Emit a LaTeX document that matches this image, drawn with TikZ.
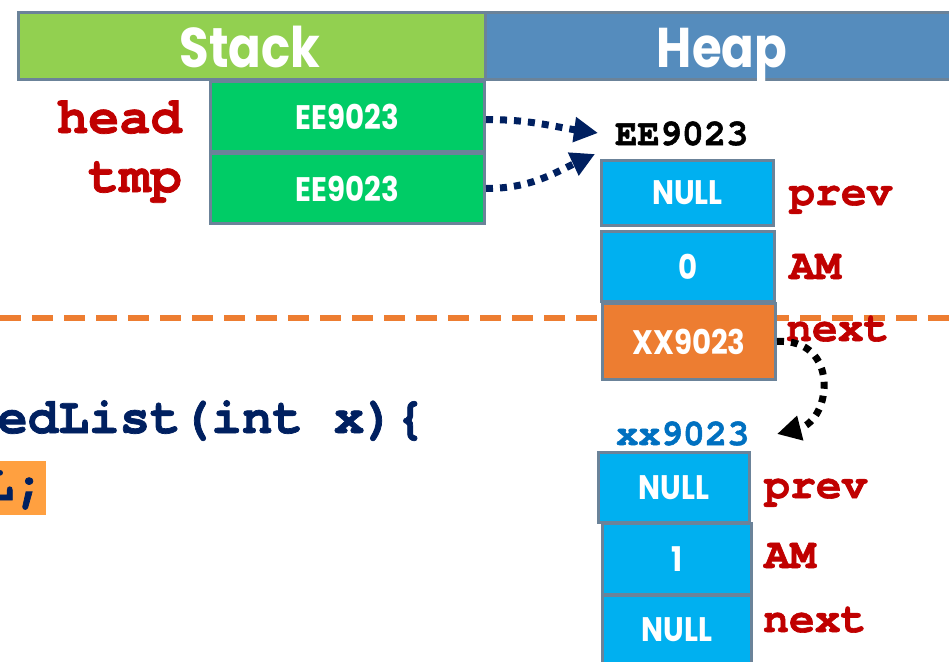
\documentclass[tikz,border=0pt]{standalone}
\usepackage{fontspec}
\usetikzlibrary{arrows.meta}
\newfontfamily\gothic{Poppins}[FakeStretch=0.86]
\newfontfamily\cour{texgyrecursor}[Extension=.otf, UprightFont=*-bold, BoldFont=*-bold, FakeBold=1.4]

\definecolor{stackgreen}{HTML}{92D050}
\definecolor{heapblue}{HTML}{558CBD}
\definecolor{cellgreen}{HTML}{00CC66}
\definecolor{cellcyan}{HTML}{00B0F0}
\definecolor{cellorange}{HTML}{ED7D31}
\definecolor{cellborder}{HTML}{6B8399}
\definecolor{labelred}{HTML}{C00000}
\definecolor{navy}{HTML}{002060}
\definecolor{addrblue}{HTML}{0070C0}
\definecolor{hlorange}{HTML}{FFA040}

\tikzset{
  hdrbox/.style={draw=cellborder, line width=3pt, inner sep=0pt, anchor=north west},
  hdrtext/.style={text=white, inner sep=0pt, anchor=base,
    font=\gothic\bfseries\fontsize{56}{56}\selectfont},
  cell/.style={draw=cellborder, line width=3pt, inner sep=0pt, anchor=north west,
    text=white, font=\gothic\bfseries\fontsize{34}{34}\selectfont},
  varname/.style={text=labelred, inner sep=0pt, anchor=base east,
    font=\cour\fontsize{52}{52}\selectfont},
  field/.style={text=labelred, inner sep=0pt, anchor=base west,
    font=\cour\fontsize{43}{43}\selectfont},
  addr/.style={inner sep=0pt, anchor=base west,
    font=\cour\fontsize{37}{37}\selectfont},
  code/.style={text=navy, inner sep=0pt, anchor=base west,
    font=\cour\fontsize{51}{51}\selectfont},
  ptr/.style={line width=7pt, dash pattern=on 7pt off 7pt,
    -{Triangle[length=24pt,width=24pt]}},
}

\begin{document}
\begin{tikzpicture}[x=1pt,y=-1pt]
\useasboundingbox (0,0) rectangle (949,661);
\clip (0,0) rectangle (949,661);

% section divider
\draw[cellorange, line width=6pt, dash pattern=on 21pt off 11pt] (0,318) -- (949,318);

% header bar
\node[hdrbox, fill=stackgreen, minimum width=467pt, minimum height=67pt] (stackhdr) at (17,11) {};
\node[hdrbox, fill=heapblue, minimum width=480pt, minimum height=67pt] (heaphdr) at (484,11) {};
\node[hdrtext] (stacktitle) at (250,67) {Stack};
\node[hdrtext] (heaptitle) at (722,67) {Heap};

% stack variables
\node[cell, fill=cellgreen, minimum width=274pt, minimum height=70pt] (headbox) at (209,80) {EE9023};
\node[cell, fill=cellgreen, minimum width=274pt, minimum height=70pt] (tmpbox) at (209,152) {EE9023};
\node[varname] (headname) at (182,133) {head};
\node[varname] (tmpname) at (182,192) {tmp};

% first heap node
\node[addr] (addr1) at (615,145) {EE9023};
\node[cell, fill=cellcyan, minimum width=172pt, minimum height=65pt] (prev1) at (600,159) {NULL};
\node[cell, fill=cellcyan, minimum width=173pt, minimum height=70pt] (am1) at (600,230) {0};
\node[cell, fill=cellorange, minimum width=173pt, minimum height=76pt] (next1) at (601,302) {XX9023};
\node[field] (prevlbl1) at (789,205) {prev};
\node[field] (amlbl1) at (789,279) {AM};
\node[field] (nextlbl1) at (786,341) {next};

% second heap node
\node[addr, text=addrblue] (addr2) at (616,445) {xx9023};
\node[cell, fill=cellcyan, minimum width=151pt, minimum height=70pt] (prev2) at (597,451) {NULL};
\node[cell, fill=cellcyan, minimum width=149pt, minimum height=71pt] (am2) at (601,522) {1};
\node[cell, fill=cellcyan, minimum width=149pt, minimum height=68pt] (next2) at (601,594) {NULL};
\node[field] (prevlbl2) at (764,498) {prev};
\node[field] (amlbl2) at (764,568) {AM};
\node[field] (nextlbl2) at (763,632) {next};

% code fragment
\node[code] (codeline1) at (-3,433) {edList(int x)\{};
\node[fill=hlorange, inner sep=0pt, anchor=north west, minimum width=56pt, minimum height=54pt] (hl) at (-10,461) {};
\node[code] (codeline2) at (-17,500) {L;};

% pointers
\coordinate (headtip) at (598,133);
\coordinate (tmptip) at (595,154);
\coordinate (nexttip) at (777,434);
\draw[ptr, navy] ([yshift=-3pt]headbox.east) to[out=0, in=172] (headtip);
\draw[ptr, navy] ([yshift=-72pt]headbox.east) to[out=0, in=205] (tmptip);
\draw[ptr, black] (next1.east) .. controls (840,338) and (832,420) .. (nexttip);
\end{tikzpicture}
\end{document}
